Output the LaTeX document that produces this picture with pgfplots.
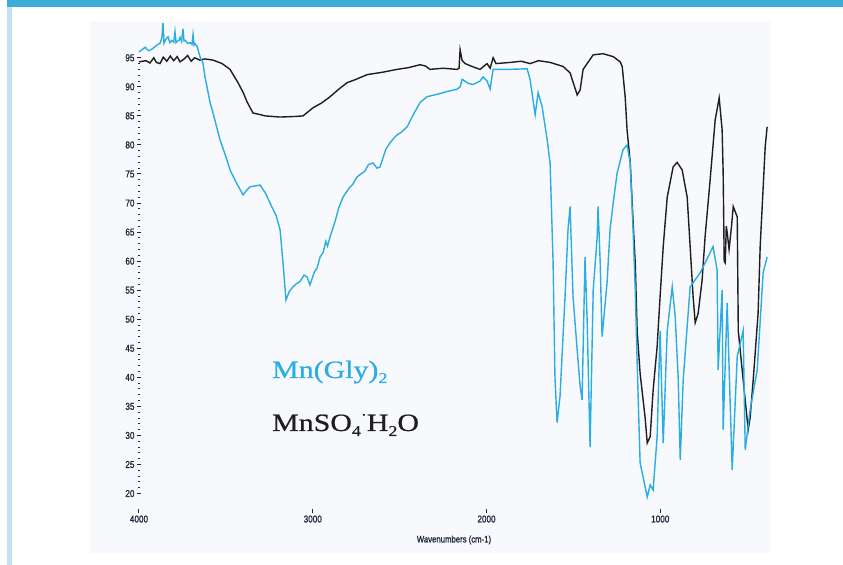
\documentclass[border=0pt]{standalone}
\usepackage{pgfplots}
\pgfplotsset{compat=1.18}
\usepackage{fontspec}
\setmainfont{Liberation Serif}
\newfontfamily\tickfont[FakeStretch=0.82,FakeBold=1.2]{Liberation Sans}
\newfontfamily\labfont[FakeStretch=1.2,FakeBold=0.7]{Liberation Serif}
\definecolor{band}{RGB}{58,174,216}
\definecolor{strip}{RGB}{198,226,242}
\definecolor{panel}{RGB}{248,249,252}
\definecolor{irblue}{RGB}{41,173,226}
\definecolor{irblack}{RGB}{30,30,30}
\definecolor{ticktxt}{RGB}{30,42,58}
\begin{document}
\begin{tikzpicture}
\path[fill=white] (0bp,0bp) rectangle (843bp,565bp);
\path[fill=band] (7bp,558bp) rectangle (843bp,565bp);
\path[fill=strip] (7bp,0bp) rectangle (12bp,558bp);
\path[fill=panel] (90bp,12bp) rectangle (771bp,544bp);
\begin{axis}[
  at={(139bp,54bp)}, anchor=south west,
  scale only axis, width=629bp, height=491bp,
  x dir=reverse, xmin=380, xmax=4000, ymin=17, ymax=101.5,
  axis x line*=bottom, axis y line*=left,
  axis line style={draw=none},
  xtick={1000,2000,3000,4000},
  ytick={20,25,30,35,40,45,50,55,60,65,70,75,80,85,90,95},
  minor y tick num=4,
  tick style={ticktxt, line width=1bp},
  major tick length=4bp, minor tick length=2.5bp,
  tick align=center,
  /pgf/number format/assume math mode=true,
  /pgf/number format/1000 sep={},
  tick label style={font=\tickfont\fontsize{10}{11}\selectfont, text=ticktxt},
  yticklabel style={xshift=1bp},
  xticklabel style={yshift=1bp},
  clip=false,
]
% MnSO4.H2O
\addplot[irblack, line width=1.4bp] coordinates {
(4000,94.3)(3960,94.5)(3937,94.1)(3915,95.0)(3900,94.2)(3879,94.0)(3860,95.1)(3840,94.4)(3820,95.3)(3800,94.5)(3780,95.2)(3764,94.3)(3740,94.8)(3720,95.4)(3700,94.4)(3680,95.0)(3649,94.6)(3620,94.8)(3574,94.6)(3522,94.0)(3476,93.0)(3430,90.7)(3400,89.0)(3378,87.4)(3344,85.5)(3300,85.2)(3275,85.0)(3188,84.8)(3100,84.9)(3056,85.0)(2998,86.4)(2950,87.2)(2900,88.3)(2850,89.6)(2803,90.7)(2750,91.3)(2687,92.1)(2600,92.5)(2515,93.0)(2450,93.3)(2382,93.8)(2353,93.6)(2325,93.0)(2250,93.2)(2169,93.0)(2158,93.2)(2152,96.4)(2140,94.5)(2123,94.0)(2083,93.5)(2037,93.0)(1997,94.0)(1979,93.2)(1962,95.0)(1945,94.0)(1864,94.2)(1800,94.4)(1749,94.0)(1700,94.5)(1634,94.2)(1559,93.5)(1519,92.4)(1478,88.6)(1461,89.5)(1444,93.0)(1386,95.5)(1330,95.7)(1271,95.2)(1231,94.3)(1219,93.5)(1202,88.3)(1191,82.6)(1173,77.0)(1156,66.6)(1144,59.7)(1133,48.0)(1116,40.7)(1087,33.0)(1075,28.7)(1058,29.8)(1041,37.8)(1018,45.3)(1001,53.9)(983,62.5)(960,71.0)(926,76.2)(903,77.0)(874,75.7)(845,71.0)(828,62.5)(811,53.9)(799,49.4)(782,51.0)(759,56.8)(742,64.2)(713,74.0)(684,84.3)(661,88.1)(644,82.6)(638,75.2)(632,60.0)(626,59.7)(620,66.0)(615,65.0)(604,62.0)(590,66.0)(580,69.4)(557,67.6)(551,48.0)(523,39.6)(494,31.0)(483,33.0)(465,39.6)(437,51.0)(425,62.5)(396,79.7)(385,83.1)
};
% Mn(Gly)2
\addplot[irblue, line width=1.4bp] coordinates {
(4000,96.0)(3965,96.8)(3945,96.2)(3925,96.5)(3896,97.2)(3879,97.5)(3868,98.5)(3862,101.0)(3856,97.5)(3845,98.2)(3833,98.6)(3822,97.6)(3810,98.0)(3800,97.7)(3793,99.5)(3787,97.6)(3781,97.8)(3770,98.0)(3764,98.5)(3755,97.8)(3747,100.0)(3741,97.9)(3735,98.0)(3720,97.5)(3706,97.6)(3695,97.3)(3689,99.0)(3683,97.2)(3678,97.4)(3666,97.0)(3649,95.2)(3632,94.1)(3620,91.7)(3591,87.3)(3574,85.5)(3534,80.9)(3500,78.0)(3476,75.7)(3440,73.5)(3401,71.4)(3380,72.2)(3361,72.8)(3303,73.1)(3270,71.6)(3246,70.0)(3210,67.8)(3188,65.4)(3171,59.7)(3154,53.3)(3135,54.8)(3113,55.6)(3090,56.2)(3073,56.5)(3050,57.6)(3033,57.3)(3016,55.9)(2990,58.2)(2975,58.8)(2958,60.7)(2940,61.5)(2925,63.4)(2915,62.6)(2900,64.2)(2870,67.0)(2850,69.2)(2826,71.0)(2790,72.6)(2770,73.2)(2745,74.5)(2700,75.5)(2680,76.6)(2653,76.9)(2630,76.0)(2613,76.2)(2580,79.2)(2555,80.4)(2520,81.6)(2490,82.2)(2457,83.1)(2420,85.3)(2382,87.3)(2342,88.3)(2300,88.6)(2260,88.9)(2227,89.2)(2169,89.6)(2152,90.0)(2140,91.3)(2106,90.6)(2077,90.4)(2037,91.0)(2020,91.7)(1997,91.0)(1979,89.6)(1962,93.0)(1881,93.0)(1766,93.1)(1749,91.2)(1720,85.2)(1703,89.0)(1680,86.6)(1651,80.9)(1634,76.9)(1617,60.0)(1606,40.0)(1594,32.2)(1577,36.7)(1548,53.9)(1531,65.4)(1519,69.4)(1502,53.9)(1479,45.0)(1461,38.4)(1450,36.1)(1433,60.7)(1421,50.0)(1404,28.0)(1386,55.0)(1363,64.2)(1358,69.4)(1346,60.0)(1335,47.0)(1306,56.3)(1289,65.4)(1271,70.0)(1248,75.2)(1214,79.2)(1191,80.0)(1173,76.9)(1156,65.0)(1144,55.0)(1133,42.5)(1116,25.3)(1093,22.0)(1075,19.4)(1058,21.5)(1041,20.6)(1018,29.8)(1001,48.0)(983,28.7)(960,48.0)(931,55.6)(914,50.4)(897,40.0)(885,25.8)(868,39.6)(828,55.6)(770,58.0)(696,62.5)(673,58.5)(667,41.3)(644,55.0)(638,31.0)(615,52.8)(586,24.1)(557,43.6)(523,48.0)(511,27.5)(483,34.4)(442,41.3)(408,58.0)(385,60.7)
};
\end{axis}
\node[anchor=base west, inner sep=0pt, text=irblue, font=\labfont\fontsize{25}{28}\selectfont] at (272bp,187bp) {Mn(Gly)\raisebox{-0.2em}{\fontsize{15}{15}\selectfont 2}};
\node[anchor=base west, inner sep=0pt, text=irblack, font=\labfont\fontsize{25}{28}\selectfont] at (272bp,134bp) {MnSO\raisebox{-0.2em}{\fontsize{15}{15}\selectfont 4}\raisebox{0.45em}{\fontsize{15}{15}\selectfont ·}H\raisebox{-0.2em}{\fontsize{15}{15}\selectfont 2}O};
\node[anchor=center, inner sep=0pt, text=ticktxt, font=\tickfont\fontsize{9.5}{10}\selectfont] at (454bp,25bp) {Wavenumbers (cm-1)};
\end{tikzpicture}
\end{document}
